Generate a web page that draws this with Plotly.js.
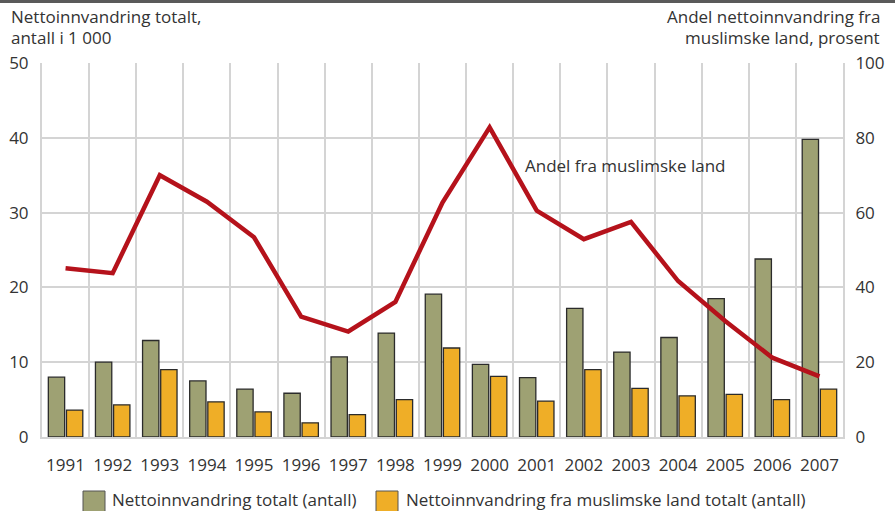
<!DOCTYPE html>
<html>
<head>
<meta charset="utf-8">
<script src="https://cdn.plot.ly/plotly-3.0.1.min.js"></script>
<style>
html,body{margin:0;padding:0;background:#fff;}
#top{position:absolute;left:0;top:0;width:895px;height:3px;background:#5a5a5a;z-index:5;}
#chart{width:895px;height:511px;}
</style>
</head>
<body>
<div id="top"></div>
<div id="chart"></div>
<script>
const years = ["1991","1992","1993","1994","1995","1996","1997","1998","1999","2000","2001","2002","2003","2004","2005","2006","2007"];
const totalt = [8.0, 10.0, 12.9, 7.5, 6.4, 5.85, 10.7, 13.9, 19.1, 9.7, 7.95, 17.2, 11.35, 13.3, 18.5, 23.8, 39.8];
const muslimske = [3.6, 4.3, 9.0, 4.7, 3.35, 1.9, 3.0, 5.0, 11.9, 8.1, 4.8, 9.0, 6.5, 5.5, 5.7, 5.0, 6.4];
const andel = [45.1, 43.8, 70.0, 62.9, 53.4, 32.2, 28.2, 36.1, 62.7, 82.8, 60.5, 52.9, 57.5, 41.7, 31.0, 21.2, 16.2];
const leftTicks = [0, 10, 20, 30, 40, 50];
const rightTicks = [0, 20, 40, 60, 80, 100];
const seriesNames = ["Nettoinnvandring totalt (antall)", "Nettoinnvandring fra muslimske land totalt (antall)"];
const seriesColors = ["#9ea173", "#efae27"];

const FONT = "Open Sans, Noto Sans, sans-serif";
const TXT = "#333333";
const FS = 17;

// plot-area geometry in pixels (for placing paper-referenced text)
const L = 42, R = 843, T = 63, B = 437;
const W = R - L, H = B - T;
const px = v => (v - L) / W;
const py = v => (B - v) / H;

const traces = [
  {type:"bar", x:years, y:totalt, name:seriesNames[0], showlegend:false,
   marker:{color:seriesColors[0], line:{color:"#2b2b2b", width:1.3}}},
  {type:"bar", x:years, y:muslimske, name:seriesNames[1], showlegend:false,
   marker:{color:seriesColors[1], line:{color:"#2b2b2b", width:1.3}}},
  {type:"scatter", mode:"lines", x:years, y:andel, yaxis:"y2", showlegend:false,
   line:{color:"#b5121b", width:4.5}}
];

const legendShapes = [
  {type:"rect", xref:"paper", yref:"paper", x0:px(83), x1:px(105), y0:py(491), y1:py(512),
   fillcolor:seriesColors[0], line:{color:"#555", width:1}},
  {type:"rect", xref:"paper", yref:"paper", x0:px(376), x1:px(398), y0:py(491), y1:py(512),
   fillcolor:seriesColors[1], line:{color:"#555", width:1}}
];

const tf = {family:FONT, size:FS, color:TXT};

const layout = {
  width:895, height:511,
  margin:{l:L, r:895-R, t:T, b:511-B},
  paper_bgcolor:"#fff", plot_bgcolor:"#fff",
  font:tf,
  barmode:"group", bargap:0.23, bargroupgap:0.1,
  showlegend:false,
  xaxis:{type:"category", tickson:"boundaries", showgrid:true, gridcolor:"#d4d4d4", gridwidth:2,
         ticks:"", showline:true, linecolor:"#d4d4d4", linewidth:2, tickangle:0,
         ticklabelstandoff:12, tickfont:tf, range:[-0.5,16.5], automargin:false},
  yaxis:{range:[0,50], tickvals:leftTicks, showgrid:true, gridcolor:"#d4d4d4", gridwidth:2,
         zeroline:false, showline:true, linecolor:"#d4d4d4", linewidth:2, ticks:"",
         ticklabelstandoff:8, tickfont:tf, automargin:false},
  yaxis2:{range:[0,100], tickvals:rightTicks, overlaying:"y", side:"right", showgrid:false,
          zeroline:false, showline:true, linecolor:"#d4d4d4", linewidth:2, ticks:"",
          ticklabelstandoff:7, tickfont:tf, automargin:false},
  shapes:legendShapes,
  annotations:[
    {text:"Nettoinnvandring totalt,", xref:"paper", yref:"paper", x:px(9), y:py(17),
     xanchor:"left", yanchor:"middle", showarrow:false, font:tf},
    {text:"antall i 1 000", xref:"paper", yref:"paper", x:px(9), y:py(38),
     xanchor:"left", yanchor:"middle", showarrow:false, font:tf},
    {text:"Andel nettoinnvandring fra", xref:"paper", yref:"paper", x:px(882), y:py(17),
     xanchor:"right", yanchor:"middle", showarrow:false, font:tf},
    {text:"muslimske land, prosent", xref:"paper", yref:"paper", x:px(882), y:py(38),
     xanchor:"right", yanchor:"middle", showarrow:false, font:tf},
    {text:"Andel fra muslimske land", xref:"x", yref:"y2", x:9.7, y:72.5,
     xanchor:"left", yanchor:"middle", showarrow:false, font:tf},
    {text:seriesNames[0], xref:"paper", yref:"paper", x:px(110), y:py(499),
     xanchor:"left", yanchor:"middle", showarrow:false, font:tf},
    {text:seriesNames[1], xref:"paper", yref:"paper", x:px(404), y:py(499),
     xanchor:"left", yanchor:"middle", showarrow:false, font:tf}
  ]
};

Plotly.newPlot("chart", traces, layout, {displayModeBar:false, staticPlot:true});
</script>
</body>
</html>
